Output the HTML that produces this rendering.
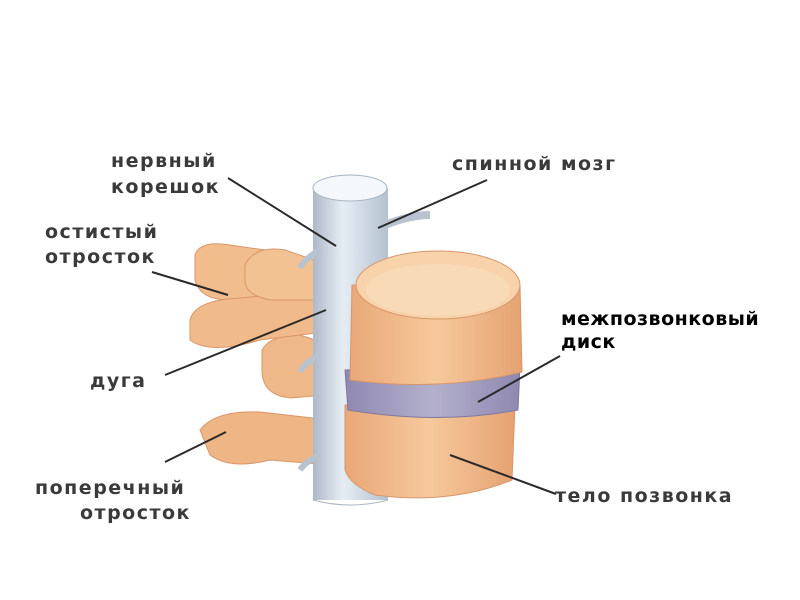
<!DOCTYPE html>
<html><head><meta charset="utf-8"><style>
body{margin:0;background:#fff;}
svg{display:block;}
text{font-family:"DejaVu Sans","Liberation Sans",sans-serif;font-size:19px;font-weight:bold;fill:#3a3a3a;letter-spacing:1.5px;}
</style></head><body>
<svg width="800" height="600" viewBox="0 0 800 600">
<defs>
<linearGradient id="cord" x1="0" x2="1"><stop offset="0" stop-color="#aeb9c8"/><stop offset="0.4" stop-color="#e6edf4"/><stop offset="1" stop-color="#b5c1cf"/></linearGradient>
<linearGradient id="bone" x1="0" x2="1"><stop offset="0" stop-color="#e9a878"/><stop offset="0.5" stop-color="#f6c99c"/><stop offset="1" stop-color="#e5a271"/></linearGradient>
<linearGradient id="disc" x1="0" x2="1"><stop offset="0" stop-color="#8f88b0"/><stop offset="0.5" stop-color="#b3b0cc"/><stop offset="1" stop-color="#8f88b0"/></linearGradient>
</defs>
<path d="M200 430 Q215 410 260 412 L330 420 L330 465 L270 460 Q230 470 210 455 Z" fill="#eeb585" stroke="#d9966a"/>
<path d="M262 350 Q270 335 300 335 L330 345 L325 395 L290 398 Q262 395 262 370 Z" fill="#efb888" stroke="#d9966a"/>
<path d="M195 255 Q200 240 230 245 L265 250 L275 300 L230 300 Q200 300 195 280 Z" fill="#f1bd8d" stroke="#d9966a"/>
<path d="M190 320 Q195 300 240 298 L330 290 L340 330 L260 340 Q210 355 190 340 Z" fill="#f0ba8a" stroke="#d9966a"/>
<path d="M245 265 Q255 245 285 250 L320 262 L320 300 L270 300 Q245 295 245 280 Z" fill="#f2c293" stroke="#d9966a"/>
<rect x="313" y="188" width="75" height="312" fill="url(#cord)"/>
<ellipse cx="350" cy="188" rx="37" ry="13" fill="#f4f7fb" stroke="#a8b3c2"/>
<path d="M313 500 Q350 510 388 500" fill="none" stroke="#a8b3c2"/>
<path d="M320 250 Q305 258 300 268" stroke="#b9c3d0" stroke-width="6" fill="none"/>
<path d="M385 225 Q410 215 430 215" stroke="#b9c3d0" stroke-width="8" fill="none"/>
<path d="M320 355 Q305 362 300 372" stroke="#b9c3d0" stroke-width="6" fill="none"/>
<path d="M320 455 Q305 462 300 470" stroke="#b9c3d0" stroke-width="6" fill="none"/>
<path d="M345 405 L515 405 L512 480 Q450 505 375 495 Q350 485 345 470 Z" fill="url(#bone)" stroke="#d9966a"/>
<path d="M345 370 L520 365 L518 410 Q440 425 348 410 Z" fill="url(#disc)" stroke="#7e789e"/>
<path d="M352 285 L520 285 L522 372 Q440 392 350 380 Z" fill="url(#bone)" stroke="#d9966a"/>
<ellipse cx="438" cy="285" rx="82" ry="34" fill="#f7d2aa" stroke="#d9966a"/>
<ellipse cx="438" cy="290" rx="72" ry="26" fill="#f9dab7"/>
<g stroke="#2a2a2a" stroke-width="2">
<line x1="228" y1="178" x2="336" y2="246"/>
<line x1="487" y1="180" x2="378" y2="228"/>
<line x1="152" y1="272" x2="228" y2="295"/>
<line x1="165" y1="375" x2="326" y2="310"/>
<line x1="165" y1="462" x2="226" y2="432"/>
<line x1="560" y1="356" x2="478" y2="402"/>
<line x1="556" y1="494" x2="450" y2="455"/>
</g>
<text x="111" y="167">нервный</text>
<text x="111" y="193">корешок</text>
<text x="452" y="170">спинной мозг</text>
<text x="45" y="238">остистый</text>
<text x="45" y="263">отросток</text>
<text x="90" y="387">дуга</text>
<text x="35" y="494">поперечный</text>
<text x="80" y="519">отросток</text>
<text x="555" y="502">тело позвонка</text>
<text x="561" y="325" style="fill:#000;letter-spacing:0.5px;">межпозвонковый</text>
<text x="561" y="348" style="fill:#000;letter-spacing:0.5px;">диск</text>
</svg>
</body></html>
